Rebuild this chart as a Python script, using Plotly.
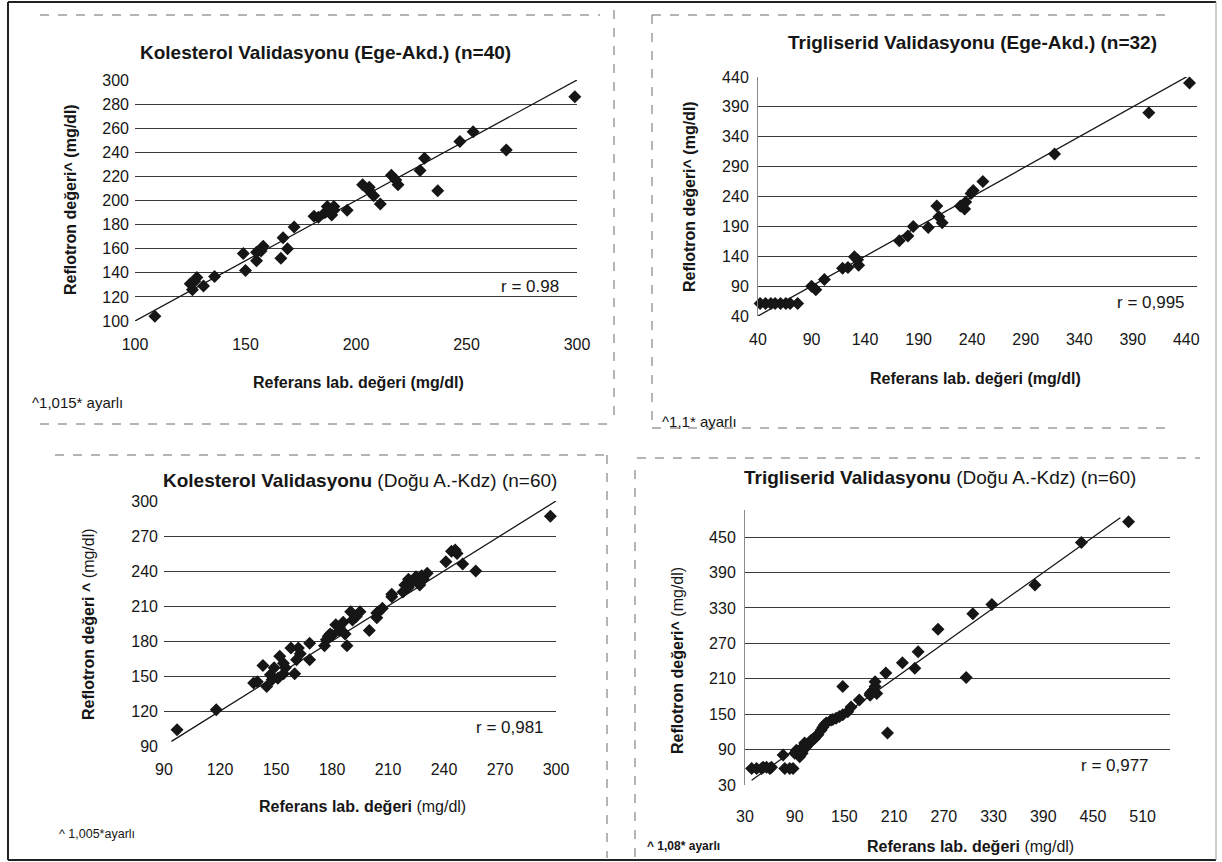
import numpy as np
import plotly.graph_objects as go

# ---------------- data ----------------
# Panel 1: Kolesterol Validasyonu (Ege-Akd.) (n=40)
p1_ref = [109, 125, 126, 128, 131, 136, 127, 149, 150, 155, 155, 158, 166, 167, 169, 172, 157,
          181, 183, 187, 189, 190, 196, 186, 190, 203, 206, 208, 211, 206, 216, 219, 218,
          229, 231, 237, 247, 253, 268, 299]
p1_ref_val = [104, 131, 126, 136, 129, 137, 133, 156, 142, 150, 157, 162, 152, 169, 160, 178, 158,
              187, 186, 195, 188, 195, 192, 190, 192, 213, 208, 204, 197, 211, 221, 213, 217,
              225, 235, 208, 249, 257, 242, 286]

# Panel 2: Trigliserid Validasyonu (Ege-Akd.) (n=32)
p2_ref = [42, 47, 52, 56, 61, 66, 70, 77, 90, 94, 102, 119, 124, 130, 133, 134, 172, 180, 185,
          199, 207, 209, 212, 229, 233, 234, 239, 241, 250, 317, 405, 443]
p2_ref_val = [61, 61, 61, 61, 61, 61, 61, 61, 90, 84, 101, 120, 121, 139, 134, 125, 166, 174, 190,
              188, 224, 206, 196, 224, 219, 231, 245, 250, 265, 311, 380, 430]

# Panel 3: Kolesterol Validasyonu (Doğu A.-Kdz) (n=60)
p3_ref = [97, 118, 138, 140, 143, 145, 147, 149, 151, 152, 154, 155, 160, 158, 161, 162, 168, 168,
          176, 177, 178, 180, 182, 184, 186, 188, 187, 190, 193, 195, 200, 204, 205, 207, 212, 212,
          218, 219, 221, 223, 225, 227, 228, 229, 231, 241, 244, 247, 250, 257, 297,
          148, 154, 163, 179, 184, 191, 204, 221, 246]
p3_ref_val = [104, 121, 144, 145, 159, 141, 151, 157, 148, 167, 161, 157, 152, 174, 164, 174, 164, 178,
              176, 181, 184, 185, 194, 189, 196, 176, 186, 205, 201, 205, 189, 200, 205, 208, 218, 220,
              222, 228, 233, 231, 235, 228, 236, 233, 238, 248, 257, 255, 246, 240, 287,
              147, 152, 169, 186, 192, 198, 204, 226, 258]

# Panel 4: Trigliserid Validasyonu (Doğu A.-Kdz) (n=60)
p4_ref = [38, 50, 56, 62, 76, 78, 88, 92, 96, 100, 102, 106, 108, 112, 116, 124, 128, 134, 140, 148,
          148, 158, 168, 181, 185, 187, 200, 202, 220, 235, 239, 263, 297, 305, 328, 380, 436, 493,
          44, 52, 60, 84, 90, 94, 98, 99, 102, 104, 110, 114, 118, 122, 126, 136, 144, 154,
          183, 187, 189, 181]
p4_ref_val = [58, 58, 60, 60, 81, 58, 58, 89, 78, 95, 101, 98, 103, 107, 113, 128, 135, 140, 143, 149,
              197, 162, 174, 185, 191, 205, 220, 118, 237, 228, 256, 294, 212, 320, 336, 369, 441, 476,
              58, 60, 58, 58, 84, 87, 89, 84, 92, 95, 106, 109, 115, 123, 132, 141, 146, 154,
              188, 197, 185, 182]

# extent (reference-value units) of the y = x agreement line drawn in each panel
agree_span = [[100, 300], [37, 450], [94, 300], [38, 483]]

titles = ["<b>Kolesterol Validasyonu (Ege-Akd.) (n=40)</b>",
          "<b>Trigliserid Validasyonu (Ege-Akd.) (n=32)</b>",
          "<b>Kolesterol Validasyonu</b> (Doğu A.-Kdz) (n=60)",
          "<b>Trigliserid Validasyonu</b> (Doğu A.-Kdz) (n=60)"]
x_titles = ["<b>Referans lab. değeri (mg/dl)</b>",
            "<b>Referans lab. değeri (mg/dl)</b>",
            "<b>Referans lab. değeri</b> (mg/dl)",
            "<b>Referans lab. değeri</b> (mg/dl)"]
y_titles = ["<b>Reflotron değeri^ (mg/dl)</b>",
            "<b>Reflotron değeri^ (mg/dl)</b>",
            "<b>Reflotron değeri ^</b> (mg/dl)",
            "<b>Reflotron değeri^</b> (mg/dl)"]
r_labels = ["r = 0.98", "r = 0,995", "r = 0,981", "r = 0,977"]
notes = ["^1,015* ayarlı", "^1,1* ayarlı", "^ 1,005*ayarlı", "<b>^ 1,08* ayarlı</b>"]

x_ticks = [[100, 150, 200, 250, 300],
           [40, 90, 140, 190, 240, 290, 340, 390, 440],
           [90, 120, 150, 180, 210, 240, 270, 300],
           [30, 90, 150, 210, 270, 330, 390, 450, 510]]
y_ticks = [[100, 120, 140, 160, 180, 200, 220, 240, 260, 280, 300],
           [40, 90, 140, 190, 240, 290, 340, 390, 440],
           [90, 120, 150, 180, 210, 240, 270, 300],
           [30, 90, 150, 210, 270, 330, 390, 450]]

# ---------------- layout geometry (pixels) ----------------
W, H = 1222, 862
FONT = "Liberation Sans, Arial, sans-serif"
INK = "#161616"


def fx(p):
    return p / W


def fy(p):
    return 1 - p / H


# plot areas: (left, right, top, bottom) px and axis ranges
areas = [
    dict(l=135, r=577, t=80, b=321, xr=[100, 300], yr=[100, 300], xstand=12, yline=False),
    dict(l=758, r=1197, t=77, b=316, xr=[40, 450], yr=[40, 440], xstand=12, yline=True),
    dict(l=164, r=556, t=501, b=746, xr=[90, 300], yr=[90, 300], xstand=12, yline=False),
    dict(l=745, r=1170, t=510, b=785, xr=[30, 543], yr=[30, 496], xstand=20, yline=True),
]
title_pos = [(325, 52), (972, 43), (360, 480), (940, 477)]
xt_pos = [(358, 382), (975, 378), (362, 806), (970, 846)]
yt_pos = [(70, 200), (689, 197), (88, 624), (677, 660)]
r_pos = [(530, 286), (1151, 302), (510, 727), (1115, 765)]
note_pos = [(30, 403, 15), (660, 421, 15), (57, 834, 12.5), (645, 846, 12)]

data_x = [p1_ref, p2_ref, p3_ref, p4_ref]
data_y = [p1_ref_val, p2_ref_val, p3_ref_val, p4_ref_val]

fig = go.Figure()
annotations = []
shapes = []

for i in range(4):
    a = areas[i]
    xa = "x" if i == 0 else f"x{i+1}"
    ya = "y" if i == 0 else f"y{i+1}"
    xs = np.array(data_x[i], dtype=float)
    ys = np.array(data_y[i], dtype=float)

    # y = x agreement line
    lx = np.array(agree_span[i], dtype=float)
    fig.add_trace(go.Scatter(x=lx, y=lx, mode="lines",
                             line=dict(color=INK, width=1.3), xaxis=xa, yaxis=ya,
                             showlegend=False, hoverinfo="skip", cliponaxis=False))
    fig.add_trace(go.Scatter(x=xs, y=ys, mode="markers",
                             marker=dict(symbol="diamond", size=10, color=INK,
                                         line=dict(width=0)),
                             xaxis=xa, yaxis=ya, showlegend=False, cliponaxis=False))

    xkey = "xaxis" if i == 0 else f"xaxis{i+1}"
    ykey = "yaxis" if i == 0 else f"yaxis{i+1}"
    fig.update_layout(**{
        xkey: dict(domain=[fx(a["l"]), fx(a["r"])], range=a["xr"], anchor=ya,
                   tickmode="array", tickvals=x_ticks[i], showgrid=False, zeroline=False,
                   showline=False, ticks="", ticklabelstandoff=a["xstand"], automargin=False,
                   tickfont=dict(family=FONT, size=16, color=INK), fixedrange=True),
        ykey: dict(domain=[fy(a["b"]), fy(a["t"])], range=a["yr"], anchor=xa,
                   tickmode="array", tickvals=y_ticks[i], showgrid=True,
                   gridcolor="#3a3a3a", gridwidth=1, zeroline=False,
                   showline=a["yline"], linecolor="#8a8a8a", linewidth=1, ticks="",
                   ticklabelstandoff=5, automargin=False,
                   tickfont=dict(family=FONT, size=16, color=INK), fixedrange=True),
    })

    annotations.append(dict(text=titles[i], x=fx(title_pos[i][0]), y=fy(title_pos[i][1]),
                            xref="paper", yref="paper", showarrow=False,
                            xanchor="center", yanchor="middle",
                            font=dict(family=FONT, size=19, color=INK)))
    annotations.append(dict(text=x_titles[i], x=fx(xt_pos[i][0]), y=fy(xt_pos[i][1]),
                            xref="paper", yref="paper", showarrow=False,
                            xanchor="center", yanchor="middle",
                            font=dict(family=FONT, size=16, color=INK)))
    annotations.append(dict(text=y_titles[i], x=fx(yt_pos[i][0]), y=fy(yt_pos[i][1]),
                            xref="paper", yref="paper", showarrow=False, textangle=-90,
                            xanchor="center", yanchor="middle",
                            font=dict(family=FONT, size=16, color=INK)))
    annotations.append(dict(text=r_labels[i], x=fx(r_pos[i][0]), y=fy(r_pos[i][1]),
                            xref="paper", yref="paper", showarrow=False,
                            xanchor="center", yanchor="middle",
                            font=dict(family=FONT, size=17, color=INK)))
    annotations.append(dict(text=notes[i], x=fx(note_pos[i][0]), y=fy(note_pos[i][1]),
                            xref="paper", yref="paper", showarrow=False,
                            xanchor="left", yanchor="middle",
                            font=dict(family=FONT, size=note_pos[i][2], color=INK)))

# scanned frame lines around the panels
frame = dict(color="#222222", width=2)
soft = dict(color="#6a6a6a", width=1, dash="dash")
for (x0, y0, x1, y1, ln) in [
    (8, 2, 8, 860, frame), (8, 2, 1216, 2, frame), (8, 860, 1216, 860, frame),
    (1216, 2, 1216, 860, dict(color="#9a9a9a", width=1)),
    (40, 15, 600, 15, soft), (40, 424, 612, 424, soft), (614, 10, 614, 424, soft),
    (652, 15, 652, 426, soft), (652, 15, 1170, 15, soft), (652, 428, 1165, 428, soft),
    (55, 455, 605, 455, soft), (607, 455, 607, 858, soft),
    (637, 458, 1200, 458, soft), (635, 470, 635, 858, soft),
]:
    shapes.append(dict(type="line", xref="paper", yref="paper",
                       x0=fx(x0), y0=fy(y0), x1=fx(x1), y1=fy(y1), line=ln))

fig.update_layout(template="none", width=W, height=H, margin=dict(l=0, r=0, t=0, b=0, pad=0),
                  paper_bgcolor="white", plot_bgcolor="white",
                  annotations=annotations, shapes=shapes, showlegend=False,
                  font=dict(family=FONT, color=INK))

fig.write_html("out.html", config={"displayModeBar": False},
               post_script="document.body.style.margin='0';document.body.style.overflow='hidden';")
